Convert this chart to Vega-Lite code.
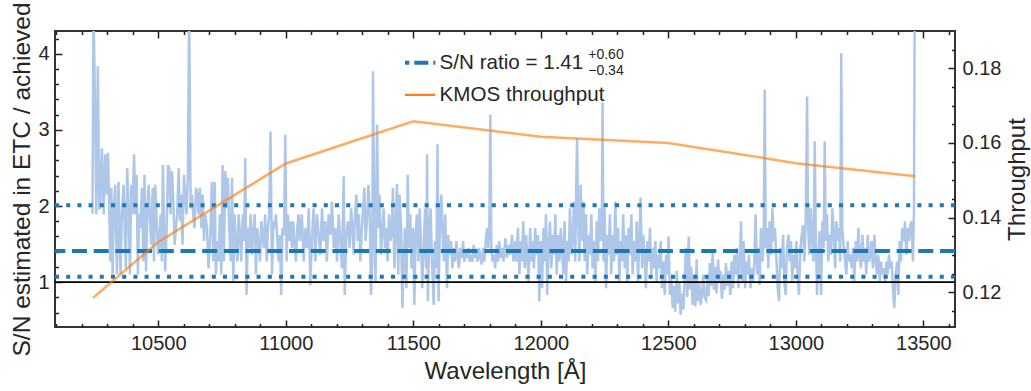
{
  "$schema": "https://vega.github.io/schema/vega-lite/v6.json",
  "usermeta": {"embedOptions": {"actions": false}},
  "width": 900,
  "height": 296,
  "autosize": "none",
  "padding": {"left": 55, "top": 31, "right": 76, "bottom": 64},
  "config": {
    "font": "Liberation Sans",
    "view": {"stroke": "#333333", "strokeWidth": 2},
    "axis": {
      "labelFont": "Liberation Sans", "labelFontSize": 20, "labelColor": "#262626",
      "titleFont": "Liberation Sans", "titleFontSize": 24, "titleFontWeight": "normal", "titleColor": "#262626",
      "grid": false, "domain": false, "ticks": true, "tickColor": "#222222", "tickWidth": 1.5,
      "labelOverlap": false, "labelFlush": false, "zindex": 1
    },
    "legend": {
      "orient": "none", "legendX": 350, "legendY": 16, "padding": 0,
      "labelFont": "Liberation Sans", "labelFontSize": 20.6, "labelColor": "#262626", "labelLimit": 400,
      "symbolType": "stroke", "symbolSize": 1600, "labelOffset": 14,
      "rowPadding": 0, "clipHeight": 31.7, "title": null
    }
  },
  "datasets": {
    "one": [{}],
    "sn": [
      {"w":10242,"s":1.9},{"w":10246,"s":4.6},{"w":10253,"s":3.07},{"w":10257,"s":1.89},{"w":10263,"s":3.84},{"w":10269,"s":1.95},{"w":10273,"s":2.06},{"w":10279,"s":2.76},{"w":10286,"s":1.89},{"w":10292,"s":2.68},{"w":10299,"s":2.15},{"w":10303,"s":2.70},{"w":10308,"s":1.89},{"w":10312,"s":1.27},{"w":10316,"s":2.24},{"w":10321,"s":1.10},{"w":10325,"s":1.89},{"w":10331,"s":2.28},{"w":10338,"s":1.10},{"w":10344,"s":2.32},{"w":10348,"s":1.71},{"w":10352,"s":1.10},{"w":10357,"s":1.89},{"w":10364,"s":2.28},{"w":10368,"s":1.71},{"w":10373,"s":1.18},{"w":10378,"s":2.50},{"w":10384,"s":1.89},{"w":10389,"s":1.10},{"w":10394,"s":2.28},{"w":10399,"s":1.89},{"w":10405,"s":2.68},{"w":10410,"s":1.89},{"w":10415,"s":2.41},{"w":10420,"s":1.10},{"w":10425,"s":1.89},{"w":10429,"s":1.71},{"w":10436,"s":2.24},{"w":10441,"s":1.27},{"w":10446,"s":2.41},{"w":10452,"s":1.14},{"w":10457,"s":1.89},{"w":10462,"s":2.28},{"w":10467,"s":1.89},{"w":10472,"s":1.49},{"w":10478,"s":2.24},{"w":10483,"s":1.27},{"w":10488,"s":2.28},{"w":10493,"s":1.89},{"w":10499,"s":1.36},{"w":10504,"s":1.54},{"w":10509,"s":1.89},{"w":10514,"s":1.27},{"w":10518,"s":2.54},{"w":10522,"s":1.89},{"w":10527,"s":1.14},{"w":10533,"s":1.71},{"w":10538,"s":2.54},{"w":10543,"s":2.50},{"w":10548,"s":1.89},{"w":10554,"s":2.46},{"w":10559,"s":2.06},{"w":10564,"s":1.49},{"w":10569,"s":1.71},{"w":10574,"s":1.89},{"w":10580,"s":2.50},{"w":10585,"s":1.80},{"w":10590,"s":2.15},{"w":10595,"s":1.49},{"w":10601,"s":2.41},{"w":10606,"s":2.15},{"w":10611,"s":1.89},{"w":10616,"s":2.37},{"w":10621,"s":4.6},{"w":10627,"s":1.97},{"w":10632,"s":2.15},{"w":10637,"s":1.89},{"w":10642,"s":1.71},{"w":10648,"s":2.24},{"w":10653,"s":2.15},{"w":10658,"s":1.89},{"w":10663,"s":2.24},{"w":10669,"s":1.71},{"w":10674,"s":2.15},{"w":10679,"s":1.54},{"w":10684,"s":1.89},{"w":10691,"s":1.71},{"w":10697,"s":1.18},{"w":10704,"s":1.62},{"w":10710,"s":2.32},{"w":10716,"s":1.27},{"w":10721,"s":2.32},{"w":10726,"s":1.10},{"w":10731,"s":1.54},{"w":10736,"s":1.27},{"w":10742,"s":1.89},{"w":10747,"s":1.10},{"w":10752,"s":2.54},{"w":10757,"s":1.27},{"w":10763,"s":2.46},{"w":10768,"s":1.97},{"w":10773,"s":2.37},{"w":10778,"s":1.71},{"w":10784,"s":1.27},{"w":10789,"s":2.37},{"w":10794,"s":1.01},{"w":10799,"s":1.89},{"w":10804,"s":1.54},{"w":10810,"s":1.27},{"w":10815,"s":1.89},{"w":10820,"s":1.62},{"w":10825,"s":1.27},{"w":10831,"s":1.89},{"w":10836,"s":1.54},{"w":10841,"s":2.63},{"w":10846,"s":0.83},{"w":10852,"s":1.71},{"w":10857,"s":1.45},{"w":10862,"s":1.89},{"w":10867,"s":1.36},{"w":10872,"s":1.62},{"w":10878,"s":1.89},{"w":10883,"s":1.10},{"w":10888,"s":1.71},{"w":10893,"s":1.54},{"w":10899,"s":1.27},{"w":10904,"s":1.80},{"w":10909,"s":1.62},{"w":10914,"s":1.45},{"w":10919,"s":1.89},{"w":10925,"s":1.27},{"w":10930,"s":1.71},{"w":10935,"s":1.89},{"w":10940,"s":2.98},{"w":10946,"s":1.10},{"w":10951,"s":1.80},{"w":10956,"s":1.71},{"w":10961,"s":1.89},{"w":10967,"s":1.54},{"w":10972,"s":1.27},{"w":10977,"s":1.62},{"w":10982,"s":0.83},{"w":10987,"s":1.71},{"w":10993,"s":1.62},{"w":10998,"s":2.94},{"w":11003,"s":1.27},{"w":11008,"s":1.89},{"w":11014,"s":1.54},{"w":11019,"s":1.80},{"w":11024,"s":1.45},{"w":11029,"s":1.80},{"w":11034,"s":1.54},{"w":11040,"s":1.27},{"w":11045,"s":1.71},{"w":11050,"s":1.89},{"w":11055,"s":1.54},
      {"w":11057,"s":1.62},{"w":11063,"s":1.89},{"w":11070,"s":1.27},{"w":11077,"s":1.71},{"w":11083,"s":1.45},{"w":11090,"s":1.97},{"w":11096,"s":0.96},{"w":11103,"s":1.62},{"w":11109,"s":1.97},{"w":11116,"s":1.27},{"w":11122,"s":1.89},{"w":11129,"s":1.62},{"w":11135,"s":1.36},{"w":11142,"s":1.97},{"w":11148,"s":1.54},{"w":11155,"s":1.80},{"w":11161,"s":1.27},{"w":11168,"s":1.89},{"w":11175,"s":1.62},{"w":11181,"s":2.06},{"w":11188,"s":1.45},{"w":11194,"s":1.71},{"w":11201,"s":1.27},{"w":11207,"s":1.89},{"w":11214,"s":1.54},{"w":11220,"s":1.18},{"w":11227,"s":2.39},{"w":11231,"s":0.83},{"w":11237,"s":1.62},{"w":11244,"s":1.80},{"w":11250,"s":1.45},{"w":11256,"s":1.97},{"w":11261,"s":1.71},{"w":11266,"s":1.36},{"w":11271,"s":1.89},{"w":11277,"s":2.15},{"w":11282,"s":1.54},{"w":11287,"s":1.89},{"w":11292,"s":1.27},{"w":11297,"s":1.62},{"w":11303,"s":1.97},{"w":11308,"s":2.24},{"w":11313,"s":1.54},{"w":11318,"s":1.80},{"w":11324,"s":2.28},{"w":11329,"s":1.89},{"w":11334,"s":0.83},{"w":11339,"s":1.27},{"w":11342,"s":3.77},{"w":11347,"s":1.89},{"w":11352,"s":1.01},{"w":11358,"s":3.07},{"w":11363,"s":1.71},{"w":11368,"s":2.15},{"w":11373,"s":1.36},{"w":11378,"s":1.62},{"w":11384,"s":1.97},{"w":11389,"s":1.45},{"w":11394,"s":1.71},{"w":11399,"s":1.27},{"w":11405,"s":1.89},{"w":11410,"s":1.54},{"w":11415,"s":1.62},{"w":11420,"s":2.24},{"w":11426,"s":1.18},{"w":11431,"s":1.71},{"w":11436,"s":2.29},{"w":11441,"s":1.10},{"w":11446,"s":2.15},{"w":11452,"s":1.71},{"w":11457,"s":0.66},{"w":11462,"s":1.27},{"w":11467,"s":1.71},{"w":11473,"s":0.92},{"w":11478,"s":2.41},{"w":11483,"s":1.45},{"w":11488,"s":1.89},{"w":11493,"s":1.18},{"w":11499,"s":1.71},{"w":11504,"s":0.70},{"w":11509,"s":1.62},{"w":11514,"s":1.89},{"w":11520,"s":1.27},{"w":11525,"s":1.97},{"w":11530,"s":1.54},{"w":11535,"s":0.92},{"w":11541,"s":1.45},{"w":11546,"s":1.97},{"w":11551,"s":1.18},{"w":11554,"s":2.68},{"w":11557,"s":0.75},{"w":11563,"s":1.71},{"w":11568,"s":1.97},{"w":11573,"s":1.27},{"w":11580,"s":0.70},{"w":11585,"s":1.54},{"w":11590,"s":1.18},{"w":11595,"s":2.81},{"w":11599,"s":0.75},{"w":11605,"s":1.89},{"w":11610,"s":2.15},{"w":11615,"s":1.62},{"w":11620,"s":1.27},{"w":11625,"s":1.89},{"w":11632,"s":0.92},{"w":11637,"s":1.62},{"w":11642,"s":1.36},{"w":11648,"s":1.54},{"w":11653,"s":1.18},{"w":11658,"s":1.45},{"w":11663,"s":1.27},{"w":11669,"s":1.54},{"w":11674,"s":1.32},{"w":11679,"s":1.18},{"w":11684,"s":1.45},{"w":11690,"s":1.32},{"w":11695,"s":1.54},{"w":11700,"s":1.27},{"w":11705,"s":1.40},{"w":11710,"s":1.32},{"w":11716,"s":1.45},{"w":11721,"s":1.27},{"w":11726,"s":1.36},{"w":11731,"s":1.27},{"w":11737,"s":1.49},{"w":11742,"s":1.32},{"w":11747,"s":1.40},{"w":11752,"s":1.27},{"w":11757,"s":1.45},{"w":11763,"s":1.32},{"w":11768,"s":1.23},{"w":11773,"s":1.45},{"w":11778,"s":1.27},{"w":11784,"s":1.54},{"w":11789,"s":1.71},{"w":11794,"s":1.45},{"w":11798,"s":1.75},{"w":11802,"s":3.20},{"w":11806,"s":1.45},{"w":11811,"s":1.27},{"w":11816,"s":1.36},{"w":11821,"s":1.18},{"w":11827,"s":1.49},{"w":11832,"s":1.27},{"w":11837,"s":1.54},{"w":11842,"s":1.32},{"w":11848,"s":1.45},{"w":11854,"s":1.27},{"w":11861,"s":1.58},{"w":11867,"s":1.32},{"w":11874,"s":1.49},{"w":11880,"s":1.36},{"w":11887,"s":1.62},{"w":11893,"s":1.27},
      {"w":11900,"s":1.54},{"w":11905,"s":1.27},{"w":11910,"s":1.71},{"w":11916,"s":1.10},{"w":11921,"s":1.54},{"w":11926,"s":1.27},{"w":11931,"s":1.80},{"w":11937,"s":1.18},{"w":11942,"s":1.62},{"w":11947,"s":1.36},{"w":11952,"s":1.01},{"w":11958,"s":1.71},{"w":11963,"s":1.27},{"w":11968,"s":1.54},{"w":11973,"s":1.18},{"w":11978,"s":1.71},{"w":11984,"s":1.36},{"w":11989,"s":1.62},{"w":11994,"s":0.75},{"w":11999,"s":1.54},{"w":12005,"s":0.92},{"w":12010,"s":1.71},{"w":12015,"s":1.27},{"w":12020,"s":1.89},{"w":12025,"s":0.83},{"w":12031,"s":1.54},{"w":12036,"s":1.80},{"w":12041,"s":1.18},{"w":12046,"s":1.62},{"w":12052,"s":1.36},{"w":12057,"s":1.89},{"w":12062,"s":1.10},{"w":12067,"s":1.62},{"w":12073,"s":1.27},{"w":12078,"s":1.71},{"w":12083,"s":1.45},{"w":12088,"s":1.10},{"w":12093,"s":1.80},{"w":12099,"s":1.01},{"w":12104,"s":1.54},{"w":12109,"s":1.27},{"w":12114,"s":1.97},{"w":12120,"s":1.36},{"w":12125,"s":1.62},{"w":12130,"s":2.06},{"w":12135,"s":1.27},{"w":12139,"s":2.28},{"w":12142,"s":2.89},{"w":12146,"s":1.89},{"w":12151,"s":1.27},{"w":12156,"s":2.28},{"w":12161,"s":1.54},{"w":12167,"s":2.06},{"w":12172,"s":1.27},{"w":12177,"s":1.89},{"w":12182,"s":1.10},{"w":12188,"s":1.62},{"w":12193,"s":1.36},{"w":12198,"s":1.89},{"w":12203,"s":1.18},{"w":12208,"s":1.54},{"w":12214,"s":1.01},{"w":12219,"s":1.80},{"w":12224,"s":1.27},{"w":12229,"s":1.97},{"w":12235,"s":1.54},{"w":12239,"s":1.71},{"w":12242,"s":3.36},{"w":12246,"s":1.27},{"w":12250,"s":1.97},{"w":12256,"s":0.92},{"w":12261,"s":1.62},{"w":12266,"s":1.36},{"w":12271,"s":1.89},{"w":12276,"s":1.10},{"w":12282,"s":1.62},{"w":12287,"s":1.27},{"w":12292,"s":2.06},{"w":12297,"s":1.36},{"w":12303,"s":1.71},{"w":12308,"s":1.01},{"w":12313,"s":1.54},{"w":12318,"s":1.27},{"w":12323,"s":1.89},{"w":12329,"s":1.18},{"w":12334,"s":1.62},{"w":12339,"s":1.01},{"w":12344,"s":1.71},{"w":12350,"s":1.36},{"w":12355,"s":1.89},{"w":12360,"s":1.10},{"w":12365,"s":1.54},{"w":12371,"s":1.27},{"w":12376,"s":1.80},{"w":12381,"s":1.01},{"w":12386,"s":1.54},{"w":12391,"s":2.11},{"w":12397,"s":1.18},{"w":12402,"s":1.62},{"w":12407,"s":1.36},{"w":12412,"s":0.92},{"w":12418,"s":1.54},{"w":12423,"s":1.27},{"w":12428,"s":1.71},{"w":12433,"s":1.10},{"w":12438,"s":1.45},{"w":12444,"s":1.18},{"w":12449,"s":1.54},{"w":12454,"s":1.01},{"w":12459,"s":1.36},{"w":12465,"s":1.18},{"w":12470,"s":1.54},{"w":12475,"s":0.92},{"w":12480,"s":1.27},{"w":12486,"s":0.83},{"w":12491,"s":1.36},
      {"w":12496,"s":1.10},{"w":12501,"s":1.60},{"w":12506,"s":0.83},{"w":12512,"s":1.05},{"w":12517,"s":0.66},{"w":12522,"s":0.95},{"w":12527,"s":0.61},{"w":12533,"s":1.15},{"w":12538,"s":0.72},{"w":12543,"s":1.00},{"w":12548,"s":0.57},{"w":12554,"s":0.85},{"w":12559,"s":0.64},{"w":12564,"s":1.05},{"w":12569,"s":1.45},{"w":12574,"s":0.80},{"w":12580,"s":1.60},{"w":12585,"s":0.90},{"w":12590,"s":1.20},{"w":12595,"s":0.70},{"w":12601,"s":1.10},{"w":12606,"s":0.68},{"w":12611,"s":1.30},{"w":12616,"s":0.75},{"w":12621,"s":1.00},{"w":12627,"s":0.70},{"w":12632,"s":0.85},{"w":12637,"s":1.10},{"w":12642,"s":0.80},{"w":12648,"s":0.76},{"w":12653,"s":1.05},{"w":12658,"s":0.82},{"w":12663,"s":1.25},{"w":12668,"s":0.95},{"w":12674,"s":1.40},{"w":12679,"s":0.90},{"w":12684,"s":1.20},{"w":12689,"s":0.85},{"w":12695,"s":1.30},{"w":12700,"s":1.00},{"w":12705,"s":1.15},{"w":12710,"s":0.78},{"w":12716,"s":1.10},{"w":12721,"s":0.90},{"w":12726,"s":1.25},{"w":12731,"s":0.95},{"w":12737,"s":1.15},
      {"w":12743,"s":0.83},{"w":12748,"s":1.27},{"w":12754,"s":0.92},{"w":12759,"s":1.36},{"w":12764,"s":1.10},{"w":12769,"s":1.45},{"w":12775,"s":0.92},{"w":12780,"s":1.27},{"w":12785,"s":1.80},{"w":12790,"s":1.01},{"w":12795,"s":1.54},{"w":12801,"s":0.92},{"w":12806,"s":1.27},{"w":12811,"s":1.10},{"w":12816,"s":1.36},{"w":12822,"s":0.92},{"w":12827,"s":1.18},{"w":12832,"s":1.01},{"w":12837,"s":1.27},{"w":12842,"s":1.89},{"w":12848,"s":1.10},{"w":12853,"s":1.45},{"w":12858,"s":0.96},{"w":12863,"s":1.71},{"w":12869,"s":1.27},{"w":12874,"s":1.54},{"w":12878,"s":3.53},{"w":12882,"s":1.45},{"w":12887,"s":1.71},{"w":12892,"s":1.18},{"w":12897,"s":1.80},{"w":12903,"s":1.36},{"w":12908,"s":1.97},{"w":12913,"s":1.54},{"w":12918,"s":1.71},{"w":12924,"s":1.27},{"w":12929,"s":0.92},{"w":12934,"s":0.75},{"w":12939,"s":1.45},{"w":12944,"s":1.18},{"w":12950,"s":1.62},{"w":12955,"s":1.01},{"w":12960,"s":0.83},{"w":12965,"s":1.45},{"w":12971,"s":1.62},{"w":12976,"s":1.27},{"w":12981,"s":1.54},{"w":12986,"s":1.01},{"w":12991,"s":1.36},{"w":12997,"s":1.18},{"w":13002,"s":1.54},{"w":13007,"s":1.10},{"w":13012,"s":0.83},{"w":13018,"s":1.45},{"w":13023,"s":1.62},{"w":13028,"s":1.75},{"w":13033,"s":1.27},{"w":13039,"s":1.89},{"w":13044,"s":3.44},{"w":13048,"s":1.71},{"w":13053,"s":1.36},{"w":13058,"s":1.97},{"w":13063,"s":1.62},{"w":13069,"s":1.27},{"w":13074,"s":2.85},{"w":13078,"s":1.62},{"w":13083,"s":0.83},{"w":13088,"s":1.27},{"w":13093,"s":1.67},{"w":13099,"s":0.83},{"w":13104,"s":1.80},{"w":13109,"s":1.45},{"w":13113,"s":2.85},{"w":13117,"s":1.54},{"w":13122,"s":1.89},{"w":13127,"s":1.27},{"w":13133,"s":1.62},{"w":13138,"s":1.36},{"w":13143,"s":1.97},{"w":13148,"s":1.71},{"w":13154,"s":1.18},{"w":13159,"s":1.80},{"w":13164,"s":1.54},{"w":13169,"s":1.71},{"w":13174,"s":1.27},{"w":13178,"s":4.01},{"w":13182,"s":1.71},{"w":13188,"s":1.45},{"w":13193,"s":1.27},{"w":13198,"s":1.10},{"w":13203,"s":1.54},{"w":13208,"s":1.27},{"w":13214,"s":1.36},{"w":13219,"s":1.18},{"w":13224,"s":1.45},{"w":13229,"s":1.01},{"w":13235,"s":1.54},{"w":13240,"s":1.27},{"w":13245,"s":1.71},{"w":13250,"s":1.36},{"w":13255,"s":1.18},{"w":13261,"s":1.62},{"w":13266,"s":1.27},{"w":13271,"s":1.45},{"w":13276,"s":1.10},{"w":13282,"s":1.62},{"w":13287,"s":1.27},{"w":13292,"s":1.36},{"w":13297,"s":1.54},{"w":13302,"s":1.18},{"w":13308,"s":1.62},{"w":13313,"s":1.27},{"w":13318,"s":1.10},{"w":13323,"s":1.36},{"w":13329,"s":1.01},{"w":13334,"s":1.27},{"w":13339,"s":1.10},{"w":13344,"s":1.18},{"w":13350,"s":1.01},{"w":13355,"s":1.27},{"w":13360,"s":1.10},{"w":13365,"s":1.36},{"w":13370,"s":1.18},{"w":13376,"s":1.27},{"w":13381,"s":0.88},{"w":13386,"s":0.66},{"w":13391,"s":1.10},{"w":13397,"s":1.27},{"w":13402,"s":0.83},{"w":13407,"s":1.54},{"w":13412,"s":1.27},{"w":13417,"s":1.71},{"w":13423,"s":1.54},{"w":13428,"s":1.80},{"w":13433,"s":1.36},{"w":13439,"s":1.71},{"w":13444,"s":1.54},{"w":13449,"s":1.75},{"w":13454,"s":1.80},{"w":13459,"s":1.27},{"w":13463,"s":1.89},{"w":13466,"s":4.6}
    ],
    "tp": [
      {"w":10244,"t":0.1185},{"w":10500,"t":0.1335},{"w":11000,"t":0.1545},{"w":11500,"t":0.1658},
      {"w":12000,"t":0.1617},{"w":12500,"t":0.1600},{"w":13000,"t":0.1546},{"w":13468,"t":0.1511}
    ]
  },
  "layer": [
    {
      "data": {"name": "sn"},
      "mark": {"type": "line", "color": "#aec7e8", "strokeWidth": 2.5, "clip": true},
      "encoding": {
        "x": {
          "field": "w", "type": "quantitative",
          "scale": {"domain": [10095, 13624], "nice": false, "zero": false},
          "axis": {
            "orient": "bottom", "title": "Wavelength [Å]", "titlePadding": 6,
            "values": [10500, 11000, 11500, 12000, 12500, 13000, 13500], "format": "d",
            "tickSize": 7, "offset": -7, "labelPadding": 6
          }
        },
        "y": {
          "field": "s", "type": "quantitative",
          "scale": {"domain": [0.41, 4.3], "nice": false, "zero": false},
          "axis": {
            "orient": "left", "title": "S/N estimated in ETC / achieved", "titlePadding": 3, "titleFontSize": 24.5,
            "values": [1, 2, 3, 4], "format": "d",
            "tickSize": 7, "offset": -7, "labelPadding": 6
          }
        }
      }
    },
    {
      "data": {"name": "one"},
      "mark": {"type": "rule", "color": "#000000", "strokeWidth": 1.6},
      "encoding": {"y": {"datum": 1, "scale": {"domain": [0.41, 4.3], "nice": false, "zero": false},
        "axis": {"orient": "left", "title": null, "labels": false, "values": [0.6,0.8,1.2,1.4,1.6,1.8,2.2,2.4,2.6,2.8,3.2,3.4,3.6,3.8,4.2], "tickSize": 3.5, "offset": -3.5}}}
    },
    {
      "data": {"name": "one"},
      "mark": {"type": "rule", "color": "#1f77b4", "strokeWidth": 4, "strokeDash": [4, 7.2]},
      "encoding": {"y": {"datum": 2.01, "scale": {"domain": [0.41, 4.3], "nice": false, "zero": false}, "axis": null}}
    },
    {
      "data": {"name": "one"},
      "mark": {"type": "rule", "color": "#1f77b4", "strokeWidth": 4, "strokeDash": [4, 7.2]},
      "encoding": {"y": {"datum": 1.07, "scale": {"domain": [0.41, 4.3], "nice": false, "zero": false}, "axis": null}}
    },
    {
      "data": {"name": "one"},
      "mark": {"type": "rule", "strokeWidth": 4, "strokeDash": [15, 6.7]},
      "encoding": {
        "y": {"datum": 1.41, "scale": {"domain": [0.41, 4.3], "nice": false, "zero": false}, "axis": null},
        "color": {
          "datum": "S/N ratio = 1.41",
          "scale": {"domain": ["S/N ratio = 1.41", "KMOS throughput"], "range": ["#1f77b4", "#ff7f0e"]},
          "legend": {
            "symbolSize": 1600, "labelOffset": 14, "clipHeight": 31.7,
            "encode": {"symbols": {"update": {
              "size": {"value": 1600},
              "strokeDash": {"signal": "datum.value === 'KMOS throughput' ? [1, 0] : [14, 5]"},
              "strokeWidth": {"signal": "datum.value === 'KMOS throughput' ? 2.2 : 4"}
            }}}
          }
        }
      }
    },
    {
      "data": {"name": "one"},
      "mark": {"type": "text", "align": "left", "baseline": "alphabetic", "fontSize": 14, "color": "#262626", "font": "Liberation Sans"},
      "encoding": {
        "x": {"datum": 12186,
          "axis": {"orient": "bottom", "title": null, "labels": false, "values": [10100,10200,10300,10400,10600,10700,10800,10900,11100,11200,11300,11400,11600,11700,11800,11900,12100,12200,12300,12400,12600,12700,12800,12900,13100,13200,13300,13400,13600], "tickSize": 3.5, "offset": -3.5}},
        "y": {"datum": 3.93, "scale": {"domain": [0.41, 4.3], "nice": false, "zero": false}, "axis": null},
        "text": {"value": "+0.60"}
      }
    },
    {
      "data": {"name": "one"},
      "mark": {"type": "text", "align": "left", "baseline": "alphabetic", "fontSize": 14, "color": "#262626", "font": "Liberation Sans"},
      "encoding": {
        "x": {"datum": 12186,
          "axis": {"orient": "top", "title": null, "labels": false, "values": [10100,10200,10300,10400,10600,10700,10800,10900,11100,11200,11300,11400,11600,11700,11800,11900,12100,12200,12300,12400,12600,12700,12800,12900,13100,13200,13300,13400,13600], "tickSize": 3.5, "offset": -3.5}},
        "y": {"datum": 3.72, "scale": {"domain": [0.41, 4.3], "nice": false, "zero": false}, "axis": null},
        "text": {"value": "−0.34"}
      }
    },
    {
      "data": {"name": "one"},
      "mark": {"type": "text", "fontSize": 1},
      "encoding": {
        "y": {"datum": 0.15, "scale": {"domain": [0.1107, 0.19], "nice": false, "zero": false},
          "axis": {"orient": "right", "title": null, "labels": false, "values": [0.115,0.125,0.13,0.135,0.145,0.15,0.155,0.165,0.17,0.175,0.185], "tickSize": 3.5, "offset": -3.5}},
        "text": {"value": ""}
      }
    },
    {
      "data": {"name": "tp"},
      "mark": {"type": "line", "color": "#ff7f0e", "opacity": 0.65, "strokeWidth": 2.5, "clip": true},
      "encoding": {
        "x": {
          "field": "w", "type": "quantitative",
          "axis": {
            "orient": "top", "title": null, "labels": false,
            "values": [10500, 11000, 11500, 12000, 12500, 13000, 13500],
            "tickSize": 7, "offset": -7
          }
        },
        "y": {
          "field": "t", "type": "quantitative",
          "scale": {"domain": [0.1107, 0.19], "nice": false, "zero": false},
          "axis": {
            "orient": "right", "title": "Throughput", "titleAngle": 270, "titleBaseline": "top", "titlePadding": 5,
            "values": [0.12, 0.14, 0.16, 0.18], "format": ".2f",
            "tickSize": 7, "offset": -7, "labelPadding": 7
          }
        },
        "color": {
          "datum": "KMOS throughput",
          "legend": {
            "symbolSize": 1600, "labelOffset": 14, "clipHeight": 31.7,
            "encode": {"symbols": {"update": {
              "size": {"value": 1600},
              "strokeDash": {"signal": "datum.value === 'KMOS throughput' ? [1, 0] : [14, 5]"},
              "strokeWidth": {"signal": "datum.value === 'KMOS throughput' ? 2.2 : 4"}
            }}}
          }
        }
      }
    }
  ],
  "resolve": {"scale": {"y": "independent"}, "axis": {"x": "independent"}}
}
